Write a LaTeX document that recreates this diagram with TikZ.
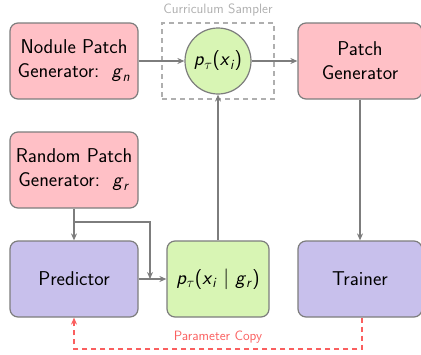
\documentclass[tikz,border=0pt]{standalone}
\usetikzlibrary{arrows.meta}
\renewcommand{\familydefault}{\sfdefault}
\definecolor{pinkfill}{RGB}{255,192,198}
\definecolor{purplefill}{RGB}{200,192,236}
\definecolor{greenfill}{RGB}{216,245,180}
\definecolor{edgegray}{RGB}{125,125,125}
\definecolor{dashgray}{RGB}{175,175,175}
\definecolor{copyred}{RGB}{250,95,95}
\newcommand{\iv}[1]{\textit{#1}}
\tikzset{
  box/.style={draw=edgegray, line width=1.2pt, rounded corners=8pt, align=center,
    font=\fontsize{20}{24}\selectfont, inner sep=0pt},
  genbox/.style={box, fill=pinkfill, minimum width=128pt, minimum height=76pt},
  workbox/.style={box, fill=purplefill, minimum width=128pt, minimum height=76pt},
  probbox/.style={box, fill=greenfill, minimum width=102pt, minimum height=76pt},
  flow/.style={draw=edgegray, line width=1.2pt, -{Stealth[length=7pt,width=6pt]}},
}
\begin{document}
\begin{tikzpicture}[x=1pt,y=1pt]
\useasboundingbox (0,0) rectangle (421,-354);
% curriculum sampler frame
\node[draw=dashgray, dash pattern=on 5pt off 4pt, line width=1.2pt, minimum width=112pt, minimum height=76pt, inner sep=0pt]
  (frame) at (218,-61) {};
\node[text=dashgray, font=\fontsize{13.5}{16}\selectfont] (framelabel) at (218,-10) {Curriculum Sampler};
% boxes
\node[genbox] (nodule) at (74,-61) {Nodule Patch\\Generator:\ \ \iv{g}\textsubscript{\iv{n}}};
\node[circle, draw=edgegray, line width=1.2pt, fill=greenfill, minimum size=66pt, inner sep=0pt,
  font=\fontsize{20}{24}\selectfont] (curr) at (218,-61) {\iv{p}\textsubscript{$\tau$}(\iv{x}\textsubscript{\iv{i}})};
\node[genbox, minimum width=124pt] (patch) at (360,-61) {Patch\\Generator};
\node[genbox] (random) at (74,-170) {Random Patch\\Generator:\ \ \iv{g}\textsubscript{\iv{r}}};
\node[workbox] (pred) at (74,-279) {Predictor};
\node[probbox] (cond) at (218,-279) {\iv{p}\textsubscript{$\tau$}(\iv{x}\textsubscript{\iv{i}} $|$ \iv{g}\textsubscript{\iv{r}})};
\node[workbox, minimum width=124pt] (trainer) at (360,-279) {Trainer};
% connectors
\draw[flow] (nodule) -- (curr);
\draw[flow] (curr) -- (patch);
\draw[flow] (cond) -- (curr);
\draw[flow] (patch.south -| trainer.north) -- (trainer.north);
\draw[flow] (random) -- (pred);
\coordinate (split) at (74,-222);
\coordinate (turn) at (150,-222);
\draw[flow] (split) -- (turn) -- (turn |- cond.west);
\draw[flow] (pred) -- (cond);
% parameter copy
\coordinate (copyright) at (362,-349);
\coordinate (copyleft) at (74,-349);
\draw[copyred, dash pattern=on 5pt off 4pt, line width=1.2pt, -{Stealth[length=7pt,width=6pt]}]
  (trainer.south -| copyright) -- (copyright) -- (copyleft) -- (pred.south);
\node[text=copyred, font=\fontsize{13.5}{16}\selectfont] (copylabel) at (218,-337) {Parameter Copy};
\end{tikzpicture}
\end{document}
